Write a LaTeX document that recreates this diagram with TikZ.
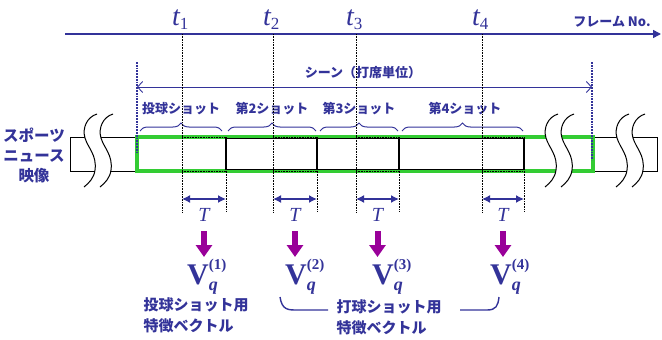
\documentclass[tikz,border=0pt]{standalone}
\usepackage{fontspec}
\usetikzlibrary{arrows.meta,decorations.pathreplacing}
\newfontfamily\jp{Noto Sans CJK JP}
\newfontfamily\tms{Liberation Serif}
\definecolor{ink}{HTML}{333399}
\definecolor{film}{HTML}{33CC33}
\definecolor{feat}{HTML}{990099}
\tikzset{
  axis/.style={draw=ink, line width=1.6pt, -{Triangle[length=8pt,width=8pt]}},
  tick/.style={draw=black, densely dotted, line width=0.6pt},
  edge/.style={draw=ink, densely dotted, line width=1.8pt},
  span/.style={draw=ink, line width=0.9pt, {Straight Barb[length=5pt,width=11pt]}-{Straight Barb[length=5pt,width=11pt]}},
  win/.style={draw=ink, line width=1.4pt, {Latex[length=8pt,width=8pt]}-{Latex[length=8pt,width=8pt]}},
  down/.style={draw=feat, line width=6pt, -{Triangle[length=12pt,width=16pt]}},
  shotbrace/.style={draw=ink, line width=1pt, decorate, decoration={brace, amplitude=8pt}},
  hook/.style={draw=ink, line width=1.4pt},
  strip/.style={draw=black, line width=1pt},
  jlab/.style={text=ink, inner sep=0pt, font=\jp\bfseries\fontsize{13}{13}\selectfont},
  jmid/.style={text=ink, inner sep=0pt, font=\jp\bfseries\fontsize{15}{21}\selectfont},
  jbig/.style={text=ink, inner sep=0pt, font=\jp\bfseries\fontsize{15.5}{20}\selectfont},
  tlab/.style={text=ink, inner sep=0pt, font=\tms\fontsize{28}{28}\selectfont},
  wlab/.style={text=ink, inner sep=0pt, font=\tms\itshape\fontsize{20}{20}\selectfont},
  vlab/.style={text=ink, inner sep=0pt, font=\tms\bfseries\fontsize{30}{30}\selectfont},
}

\begin{document}
\begin{tikzpicture}[x=1pt,y=-1pt]
  \useasboundingbox (0,0) rectangle (662,340);
  % frame axis
  \coordinate (ax0) at (65,34);
  \coordinate (ax1) at (661,34);
  \draw[axis] (ax0) -- (ax1);
  \node[jlab] (frm) at (612,22) {フレーム No.};
  % video strip
  \draw[strip] (137,137) -- (70,137) -- (70,171) -- (137,171);
  \draw[strip] (593,137) -- (657,137) -- (657,171) -- (593,171);
  \draw[film, line width=3.2pt] (137,137) rectangle (593,171);
  \draw[strip, line width=1.1pt] (226,138.5) rectangle (317,169.5);
  \draw[strip, line width=1.1pt] (317,138.5) rectangle (399,169.5);
  \draw[strip, line width=1.1pt] (399,138.5) rectangle (524,169.5);
  % breaks
  \foreach \bx in {83,544,615} {
    \begin{scope}[shift={(\bx,0)}]
      \fill[white] (14,114) .. controls (4,117) and (-1,128) .. (2,138)
        .. controls (5,148) and (14,155) .. (12,170)
        .. controls (11,178) and (6,183) .. (1,187) -- (17,187)
        .. controls (22,183) and (27,178) .. (28,170)
        .. controls (30,155) and (21,148) .. (18,138)
        .. controls (15,128) and (20,117) .. (30,114) -- cycle;
      \draw[strip] (14,114) .. controls (4,117) and (-1,128) .. (2,138)
        .. controls (5,148) and (14,155) .. (12,170)
        .. controls (11,178) and (6,183) .. (1,187);
      \draw[strip] (30,114) .. controls (20,117) and (15,128) .. (18,138)
        .. controls (21,148) and (30,155) .. (28,170)
        .. controls (27,178) and (22,183) .. (17,187);
    \end{scope}
  }
  \node[jbig, align=center] (src) at (34,155) {スポーツ\\ニュース\\映像};
  % scene
  \coordinate (sl0) at (137,62);
  \coordinate (sl1) at (137,153);
  \coordinate (sr0) at (592,62);
  \coordinate (sr1) at (592,160);
  \draw[edge] (sl0) -- (sl1);
  \draw[edge] (sr0) -- (sr1);
  \draw[span] (137,87) -- (592,87);
  \node[jlab] (scene) at (363,73) {シーン（打席単位）};
  % shots
  \draw[shotbrace] (140,131) -- (222,131);
  \draw[shotbrace] (228,131) -- (316,131);
  \draw[shotbrace] (320,131) -- (398,131);
  \draw[shotbrace] (402,131) -- (523,131);
  \node[jlab] (s1) at (181,109) {投球ショット};
  \node[jlab] (s2) at (272,109) {第2ショット};
  \node[jlab] (s3) at (359,109) {第3ショット};
  \node[jlab] (s4) at (465,109) {第4ショット};
  % windows of length T
  \foreach \i/\x/\w/\vx in {1/182/226/187, 2/273/317/285, 3/356/399/372, 4/482/524/490} {
    \coordinate (a\i) at (\x,34);
    \coordinate (b\i) at (\x,212);
    \coordinate (c\i) at (\w,137);
    \coordinate (d\i) at (\w,212);
    \draw[tick] (a\i) -- (b\i);
    \draw[tick] (c\i) -- (d\i);
    \draw[tick] (\x,137) -- (\w,137) (\x,171) -- (\w,171);
    \draw[win] (\x,199) -- (\w,199);
    \node[tlab, anchor=base west] (t\i) at (\x-10,25) {\itshape t\raisebox{-4pt}{\upshape\fontsize{17}{17}\selectfont\i}};
    \node[wlab] (T\i) at ({(\x+\w)/2},215) {T};
    \coordinate (p\i) at ({(\x+\w)/2},231);
    \coordinate (q\i) at ({(\x+\w)/2},257);
    \draw[down] (p\i) -- (q\i);
    \node[vlab, anchor=base west] (v\i) at (\vx,284)
      {V\rlap{\raisebox{15pt}{\fontsize{15}{15}\selectfont(\i)}}\raisebox{-6pt}{\fontsize{18}{18}\selectfont\itshape q}};
  }
  % feature vectors
  \node[jmid, align=left] (fp) at (196,315) {投球ショット用\\特徴ベクトル};
  \node[jmid, align=left] (fb) at (389,317) {打球ショット用\\特徴ベクトル};
  \draw[hook] (280,297) .. controls (282,310) and (288,310) .. (297,310) -- (328,310);
  \draw[hook] (460,310) -- (487,310) .. controls (496,310) and (498,306) .. (499,297);
\end{tikzpicture}
\end{document}
